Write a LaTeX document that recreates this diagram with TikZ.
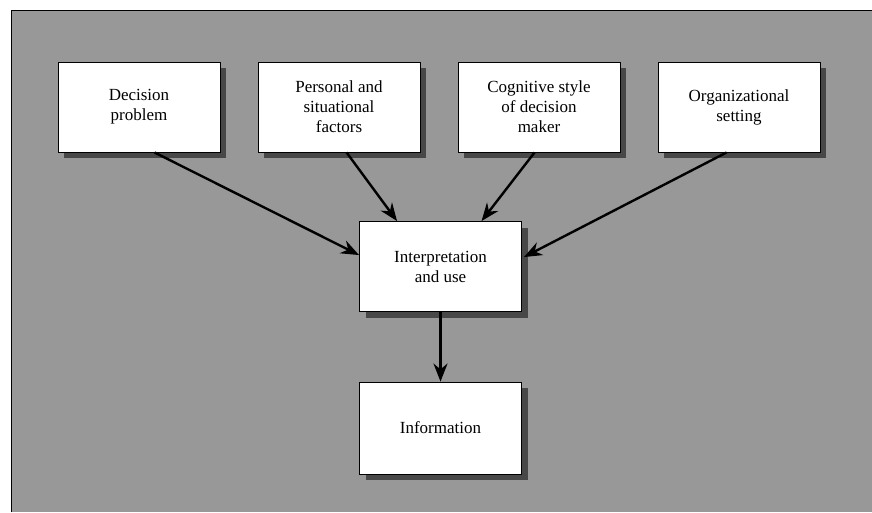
\documentclass[tikz,border=0pt]{standalone}
\usepackage{fontspec}
\setmainfont{Liberation Serif}
\usetikzlibrary{shadows,arrows.meta,calc}
\definecolor{bggray}{RGB}{152,152,152}
\definecolor{shadegray}{RGB}{72,72,72}
\begin{document}
\begin{tikzpicture}[x=1pt,y=-1pt,
  card/.style={draw=black, line width=0.9pt, fill=white,
    minimum width=162pt, minimum height=90pt, inner sep=0pt,
    align=center, font=\fontsize{17}{20}\selectfont,
    drop shadow={shadow xshift=6pt, shadow yshift=-6pt, fill=shadegray, opacity=1}},
  flow/.style={line width=2.4pt, -{Stealth[length=18pt,width=14pt]}}]
\useasboundingbox (0,0) rectangle (872,512);
% shaded panel
\fill[bggray] (11,10) rectangle (872,512);
\draw[line width=0.9pt] (11,512) -- (11,10) -- (872,10);

% input factors
\node[card] (b1) at (139,107) {Decision\\problem};
\node[card] (b2) at (339,107) {Personal and\\situational\\factors};
\node[card] (b3) at (539,107) {Cognitive style\\of decision\\maker};
\node[card] (b4) at (739,107) {Organizational\\setting};

% central step and result
\node[card] (mid) at (440.5,266.5) {Interpretation\\and use};
\node[card, minimum height=92pt] (info) at (440.5,428) {Information};

% connectors
\draw[flow] ($(b1.south west)+(97,0)$) -- ($(mid.north west)+(0,34)$);
\draw[flow] ($(b2.south west)+(89,0)$) -- ($(mid.north west)+(38,0)$);
\draw[flow] ($(b3.south west)+(77,0)$) -- ($(mid.north west)+(122.5,0)$);
\draw[flow] ($(b4.south west)+(69,0)$) -- ($(mid.north east)+(2,36)$);
\draw[flow] (mid.south) -- (info.north);
\end{tikzpicture}
\end{document}
